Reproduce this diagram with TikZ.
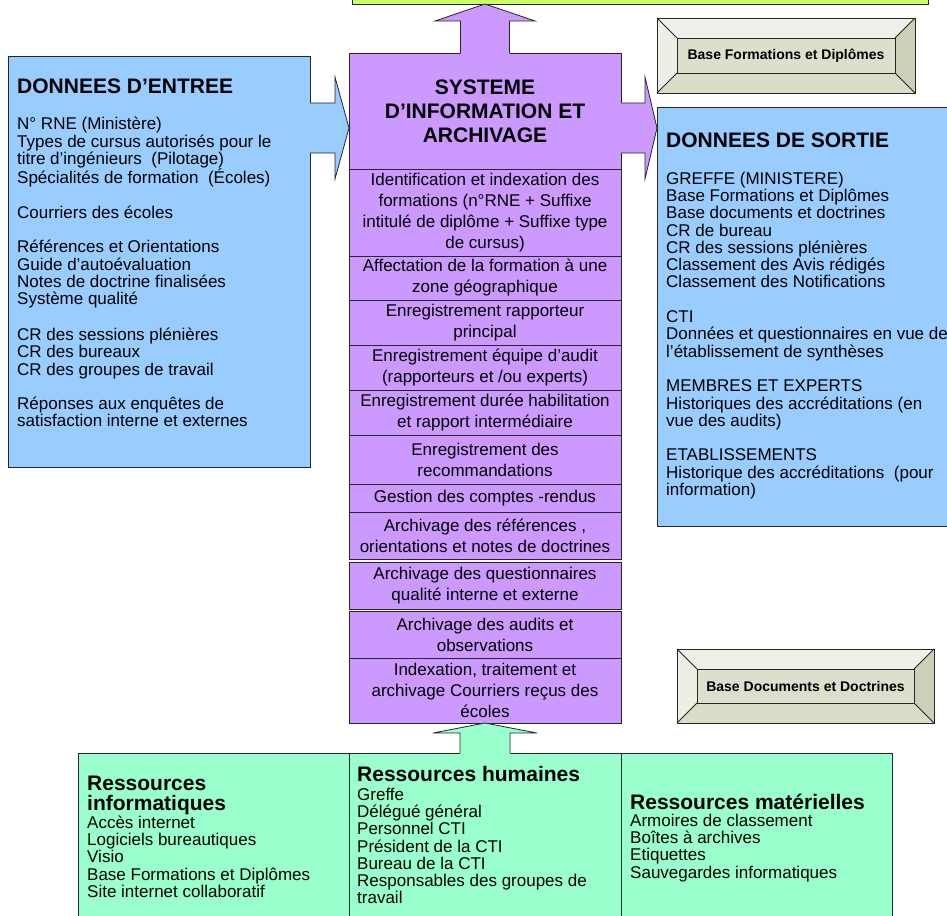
\documentclass[tikz,border=0pt]{standalone}
\usepackage{fontspec}
\setmainfont{Liberation Sans}
\usetikzlibrary{calc,backgrounds}
\definecolor{cblue}{HTML}{99CCFF}
\definecolor{cpurple}{HTML}{CC99FF}
\definecolor{cgreen}{HTML}{99FFCC}
\definecolor{cyellow}{HTML}{CCFF66}
\definecolor{bevface}{HTML}{DCDFCB}
\definecolor{bevlight}{HTML}{F0F0E9}
\definecolor{bevleft}{HTML}{EDEEE4}
\definecolor{bevdark}{HTML}{CDD0B8}
\definecolor{bevmid}{HTML}{D9DCC6}
\tikzset{
  lineb/.style={draw=black!85, line width=0.8pt},
  box/.style={lineb, rectangle, inner sep=0pt, outer sep=0pt},
  rowbox/.style={box, fill=cpurple, minimum width=272pt, align=center, font=\fontsize{17}{21}\selectfont},
  bodytxt/.style={inner sep=0pt, align=left, anchor=north west, font=\fontsize{17}{17.3}\selectfont},
  headtxt/.style={inner sep=0pt, align=left, font=\bfseries\fontsize{21}{20}\selectfont},
  bevelbox/.style={box, font=\bfseries\fontsize{14}{16}\selectfont},
}
% horizontal block arrow: colour, base, tip, half shaft, half head, head length
\newcommand{\harr}[6]{%
  \fill[#1] ($(#2)+(-1,-#4)$) -- ($(#3)+(-#6,-#4)$) -- ($(#3)+(-#6,-#5)$) -- (#3) -- ($(#3)+(-#6,#5)$) -- ($(#3)+(-#6,#4)$) -- ($(#2)+(-1,#4)$) -- cycle;
  \draw[lineb] ($(#2)+(0,-#4)$) -- ($(#3)+(-#6,-#4)$) -- ($(#3)+(-#6,-#5)$) -- (#3) -- ($(#3)+(-#6,#5)$) -- ($(#3)+(-#6,#4)$) -- ($(#2)+(0,#4)$);
}
% vertical (upward) block arrow
\newcommand{\varr}[6]{%
  \fill[#1] ($(#2)+(-#4,1)$) -- ($(#3)+(-#4,#6)$) -- ($(#3)+(-#5,#6)$) -- (#3) -- ($(#3)+(#5,#6)$) -- ($(#3)+(#4,#6)$) -- ($(#2)+(#4,1)$) -- cycle;
  \draw[lineb] ($(#2)+(-#4,0)$) -- ($(#3)+(-#4,#6)$) -- ($(#3)+(-#5,#6)$) -- (#3) -- ($(#3)+(#5,#6)$) -- ($(#3)+(#4,#6)$) -- ($(#2)+(#4,0)$);
}
\newcommand{\bevelpanels}[1]{%
  \begin{scope}[on background layer]
    \coordinate (#1a) at ($(#1.north west)+(20,20)$);
    \coordinate (#1b) at ($(#1.north east)+(-20,20)$);
    \coordinate (#1c) at ($(#1.south east)+(-20,-20)$);
    \coordinate (#1d) at ($(#1.south west)+(20,-20)$);
    \fill[bevlight] (#1.north west) -- (#1.north east) -- (#1b) -- (#1a) -- cycle;
    \fill[bevleft] (#1.north west) -- (#1a) -- (#1d) -- (#1.south west) -- cycle;
    \fill[bevdark] (#1.north east) -- (#1.south east) -- (#1c) -- (#1b) -- cycle;
    \fill[bevmid] (#1.south west) -- (#1.south east) -- (#1c) -- (#1d) -- cycle;
    \draw[lineb] (#1.north west) -- (#1a) (#1.north east) -- (#1b) (#1.south east) -- (#1c) (#1.south west) -- (#1d);
    \filldraw[lineb, fill=bevface] (#1a) rectangle (#1c);
  \end{scope}}
\begin{document}
\begin{tikzpicture}[x=1pt,y=-1pt]
\useasboundingbox (0,0) rectangle (947,915);

% top box
\node[box, fill=cyellow, minimum width=576pt, minimum height=34pt] (top) at (640,-13) {};

% input box
\node[box, fill=cblue, minimum width=302pt, minimum height=411pt] (in) at (159,261.5) {};
\node[headtxt, anchor=west] (inh) at (17,86) {DONNEES D'ENTREE};
\node[bodytxt] (inb) at (17,117) {N° RNE (Ministère)\\Types de cursus autorisés pour le\\titre d’ingénieurs\ \ (Pilotage)\\Spécialités de formation\ \ (Écoles)\\[17.3pt]Courriers des écoles\\[17.3pt]Références et Orientations\\Guide d’autoévaluation\\Notes de doctrine finalisées\\Système qualité\\[18.5pt]CR des sessions plénières\\CR des bureaux\\CR des groupes de travail\\[17.3pt]Réponses aux enquêtes de\\satisfaction interne et externes};

% output box
\node[box, fill=cblue, minimum width=305pt, minimum height=419pt] (out) at (809.5,316.5) {};
\node[headtxt, anchor=west] (outh) at (666,140) {DONNEES DE SORTIE};
\node[bodytxt] (outb) at (666,171.6) {GREFFE (MINISTERE)\\Base Formations et Diplômes\\Base documents et doctrines\\CR de bureau\\CR des sessions plénières\\Classement des Avis rédigés\\Classement des Notifications\\[17.3pt]CTI\\Données et questionnaires en vue de\\l’établissement de synthèses\\[17.3pt]MEMBRES ET EXPERTS\\Historiques des accréditations (en\\vue des audits)\\[17.3pt]ETABLISSEMENTS\\Historique des accréditations\ \ (pour\\information)};

% bevel boxes
\node[bevelbox, minimum width=258pt, minimum height=75pt] (bfd) at (786,55.5) {Base Formations et Diplômes};
\bevelpanels{bfd}
\node[bevelbox, minimum width=257pt, minimum height=74pt] (bdd) at (805.5,686) {Base Documents et Doctrines};
\bevelpanels{bdd}

% system header
\node[box, fill=cpurple, minimum width=272pt, minimum height=116pt, align=center, font=\bfseries\fontsize{21}{24}\selectfont] (sys) at (485,111) {SYSTEME\\D’INFORMATION ET\\ARCHIVAGE};

% rows
\node[rowbox, minimum height=87pt] (r1) at (485,212.5) {Identification et indexation des\\formations (n°RNE + Suffixe\\intitulé de diplôme + Suffixe type\\de cursus)};
\node[rowbox, minimum height=44pt] (r2) at (485,278) {Affectation de la formation à une\\zone géographique};
\node[rowbox, minimum height=45pt] (r3) at (485,322.5) {Enregistrement rapporteur\\principal};
\node[rowbox, minimum height=45pt] (r4) at (485,367.5) {Enregistrement équipe d’audit\\(rapporteurs et /ou experts)};
\node[rowbox, minimum height=45pt] (r5) at (485,412.5) {Enregistrement durée habilitation\\et rapport intermédiaire};
\node[rowbox, minimum height=49pt] (r6) at (485,459.5) {Enregistrement des\\recommandations};
\node[rowbox, minimum height=28pt] (r7) at (485,498) {Gestion des comptes -rendus};
\node[rowbox, minimum height=47pt] (r8) at (485,535.5) {Archivage des références ,\\orientations et notes de doctrines};
\node[rowbox, minimum height=47pt] (r9) at (485,585.5) {Archivage des questionnaires\\qualité interne et externe};
\node[rowbox, minimum height=47pt] (r10) at (485,634.5) {Archivage des audits et\\observations};
\node[rowbox, minimum height=65pt] (r11) at (485,690.5) {Indexation, traitement et\\archivage Courriers reçus des\\écoles};

% bottom boxes
\node[box, fill=cgreen, minimum width=271pt, minimum height=182pt] (ri) at (213.5,844) {};
\node[box, fill=cgreen, minimum width=272pt, minimum height=182pt] (rh) at (485,844) {};
\node[box, fill=cgreen, minimum width=271pt, minimum height=182pt] (rm) at (756.5,844) {};
\node[headtxt, anchor=north west] (rih) at (87,775.5) {Ressources\\informatiques};
\node[bodytxt] (rib) at (87,815.6) {Accès internet\\Logiciels bureautiques\\Visio\\Base Formations et Diplômes\\Site internet collaboratif};
\node[headtxt, anchor=north west] (rhh) at (357,766.5) {Ressources humaines};
\node[bodytxt] (rhb) at (357,787.6) {Greffe\\Délégué général\\Personnel CTI\\Président de la CTI\\Bureau de la CTI\\Responsables des groupes de\\travail};
\node[headtxt, anchor=north west] (rmh) at (630,793.5) {Ressources matérielles};
\node[bodytxt] (rmb) at (630,813.6) {Armoires de classement\\Boîtes à archives\\Etiquettes\\Sauvegardes informatiques};

% block arrows
\coordinate (ay) at (0,128);
\coordinate (la0) at (in.east |- ay);
\coordinate (la1) at (sys.west |- ay);
\coordinate (ra0) at (sys.east |- ay);
\coordinate (ra1) at (out.west |- ay);
\coordinate (ua0) at (sys.north);
\coordinate (ua1) at (sys.north |- top.south);
\coordinate (ba0) at (rh.north);
\coordinate (ba1) at (rh.north |- r11.south);
\harr{cblue}{la0}{la1}{25}{51}{14}
\harr{cpurple}{ra0}{ra1}{25}{51}{12}
\varr{cpurple}{ua0}{ua1}{24.5}{50}{17}
\varr{cgreen}{ba0}{ba1}{25}{52}{10}
\end{tikzpicture}
\end{document}
